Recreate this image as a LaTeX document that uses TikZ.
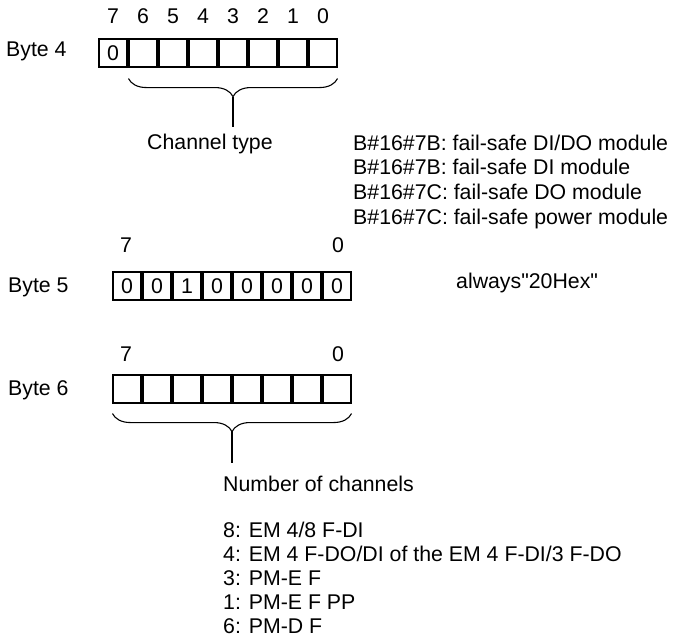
\documentclass[tikz,border=0pt]{standalone}
\usepackage{fontspec}
\newfontfamily\arialfont{Liberation Sans}
\usetikzlibrary{positioning, decorations.pathreplacing}

\begin{document}
\begin{tikzpicture}[x=1pt, y=-1pt, font={\fontsize{21.3}{25}\arialfont}]

\tikzstyle{bit} = [rectangle, draw=black, line width=1.1pt, minimum width=28pt, minimum height=28pt, inner sep=0pt]
\tikzstyle{txt} = [anchor=base west, inner sep=0pt]
\tikzstyle{num} = [anchor=base, inner sep=0pt]
\tikzstyle{brace} = [decorate, decoration={brace, mirror, amplitude=18pt}, line width=1.1pt]

\useasboundingbox (0,0) rectangle (675,643);

% Byte 4
\node (byte4) [txt] at (6,56) {Byte 4};
\foreach \k/\v [count=\i from 0] in {7/0,6/,5/,4/,3/,2/,1/,0/} {
  \node (b4-\k) [bit] at (113+30*\i,53) {\v};
  \node (n4-\k) [num] at (113+30*\i,23) {\k};
}
\draw [brace] ([yshift=-11pt]b4-6.south west) -- ([yshift=-11pt]b4-0.south east);
\coordinate (tip4) at (233,97);
\node (chtype) [txt] at (147,149) {Channel type};
\draw [line width=1.1pt] (tip4) -- (233,127);

\foreach \t [count=\i from 0] in {B\#16\#7B: fail-safe DI/DO module,
  B\#16\#7B: fail-safe DI module, B\#16\#7C: fail-safe DO module,
  B\#16\#7C: fail-safe power module} {
  \node (type\i) [txt] at (353,150+24.7*\i) {\t};
}

% Byte 5
\node (byte5) [txt] at (8,292) {Byte 5};
\foreach \k/\v [count=\i from 0] in {7/0,6/0,5/1,4/0,3/0,2/0,1/0,0/0} {
  \node (b5-\k) [bit] at (127+30*\i,286) {\v};
}
\node (n5-7) [num] at (126,252) {7};
\node (n5-0) [num] at (338,252) {0};
\node (always) [txt] at (456,288) {always"20Hex"};

% Byte 6
\node (byte6) [txt] at (8,395) {Byte 6};
\foreach \k [count=\i from 0] in {7,...,0} {
  \node (b6-\k) [bit] at (127+30*\i,389) {};
}
\node (n6-7) [num] at (126,361) {7};
\node (n6-0) [num] at (338,361) {0};
\draw [brace] ([yshift=-10pt]b6-7.south west) -- ([yshift=-10pt]b6-0.south east);
\coordinate (tip6) at (232,431);
\node (nchan) [txt] at (223,491) {Number of channels};
\draw [line width=1.1pt] (tip6) -- (232,463);

\foreach \t [count=\i from 0] in {8: EM 4/8 F-DI,
  4: EM 4 F-DO/DI of the EM 4 F-DI/3 F-DO, 3: PM-E F, 1: PM-E F PP, 6: PM-D F} {
  \node (mod\i) [txt] at (223,537+24*\i) {\t};
}

\end{tikzpicture}
\end{document}
